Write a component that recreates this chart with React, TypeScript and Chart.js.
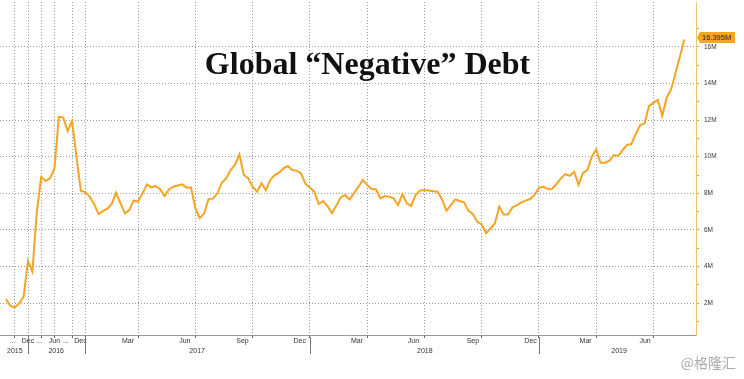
import React, { useEffect, useRef } from "react";
import { Chart, registerables } from "chart.js";
Chart.register(...registerables);

// Global negative-yielding debt (USD trillions, shown as "M" on the source chart)
const values = [
  2.23, 1.85, 1.76, 2.0, 2.36, 4.31, 3.73, 7.0, 8.9, 8.67,
  8.82, 9.36, 12.18, 12.13, 11.4, 11.95, 10.0, 8.13, 8.07, 7.82,
  7.42, 6.87, 7.03, 7.16, 7.42, 8.03, 7.45, 6.91, 7.09, 7.6,
  7.55, 8.0, 8.49, 8.33, 8.4, 8.22, 7.85, 8.22, 8.36, 8.43,
  8.49, 8.31, 8.33, 7.18, 6.64, 6.91, 7.69, 7.71, 8.0, 8.58,
  8.82, 9.27, 9.55, 10.13, 9.0, 8.82, 8.36, 8.09, 8.55, 8.18,
  8.73, 9.0, 9.13, 9.36, 9.49, 9.27, 9.24, 9.09, 8.51, 8.31,
  8.09, 7.42, 7.58, 7.31, 6.91, 7.33, 7.78, 7.91, 7.67, 8.0,
  8.35, 8.73, 8.45, 8.24, 8.22, 7.73, 7.85, 7.82, 7.73, 7.36,
  7.96, 7.45, 7.31, 7.91, 8.15, 8.18, 8.15, 8.12, 8.09, 7.67,
  7.05, 7.36, 7.67, 7.58, 7.51, 7.04, 6.87, 6.45, 6.31, 5.82,
  6.09, 6.36, 7.27, 6.85, 6.85, 7.24, 7.36, 7.51, 7.6, 7.69,
  7.91, 8.31, 8.36, 8.24, 8.25, 8.51, 8.82, 9.05, 8.96, 9.18,
  8.47, 9.11, 9.27, 10.0, 10.4, 9.67, 9.67, 9.78, 10.09, 10.04,
  10.36, 10.64, 10.69, 11.24, 11.73, 11.82, 12.76, 12.95, 13.09, 12.22,
  13.22, 13.67, 14.55, 15.45, 16.395,
];

// x positions are in observation-index units
const gridIdx = [2, 5, 8, 11, 15, 18, 30, 43, 56, 69, 82, 95, 108, 121, 134, 147];
const monthLabels = ["...", "Dec", "...", "Jun", "...", "Dec", "Mar", "Jun", "Sep", "Dec", "Mar", "Jun", "Sep", "Dec", "Mar", "Jun"];
const monthPos = [1.5, 5, 7.5, 11, 13.6, 16.9, 27.7, 40.6, 53.7, 66.7, 79.7, 92.5, 106, 119.1, 131.6, 145.1];
const yearLabels = ["2015", "2016", "2017", "2018", "2019"];
const yearPos = [2, 11.4, 43.4, 95.1, 139.2];
const yearBounds = [5, 18, 69, 121];
const yTicks = [1, 2, 3, 4, 5, 6, 7, 8, 9, 10, 11, 12, 13, 14, 15, 16, 17];

const X_MIN = -1.36;
const X_MAX = 156.66;
const ORANGE = "#f5a424";
const GRID = "#9a9a9a";

const noPad = (s: any) => {
  s.paddingTop = 0;
  s.paddingBottom = 0;
  s.paddingLeft = 0;
  s.paddingRight = 0;
};

const overlay = {
  id: "overlay",
  afterDraw(chart: any) {
    const ctx = chart.ctx;
    const xs = chart.scales.x;
    const ys = chart.scales.y;
    const area = chart.chartArea;
    ctx.save();
    ctx.strokeStyle = "#777";
    ctx.lineWidth = 1;
    yearBounds.forEach((b) => {
      const px = Math.round(xs.getPixelForValue(b)) + 0.5;
      ctx.beginPath();
      ctx.moveTo(px, area.bottom + 2);
      ctx.lineTo(px, area.bottom + 19);
      ctx.stroke();
    });
    const last = values[values.length - 1];
    const py = ys.getPixelForValue(last) - 2;
    const bx = area.right + 4;
    ctx.fillStyle = ORANGE;
    ctx.beginPath();
    ctx.moveTo(area.right + 1, py);
    ctx.lineTo(bx, py - 5.5);
    ctx.lineTo(bx + 35, py - 5.5);
    ctx.lineTo(bx + 35, py + 5.5);
    ctx.lineTo(bx, py + 5.5);
    ctx.closePath();
    ctx.fill();
    ctx.fillStyle = "#222";
    ctx.font = "7.5px 'Liberation Sans'";
    ctx.textBaseline = "middle";
    ctx.textAlign = "left";
    ctx.fillText(last.toFixed(3) + "M", bx + 2, py + 0.5);
    ctx.restore();
  },
};

export default function App() {
  const ref = useRef<HTMLCanvasElement>(null);
  useEffect(() => {
    if (!ref.current) return;
    const tickFont = { family: "'Liberation Sans', sans-serif", size: 7 };
    const chart = new Chart(ref.current, {
      type: "line",
      data: {
        datasets: [
          {
            data: values.map((v, i) => ({ x: i, y: v })),
            borderColor: ORANGE,
            borderWidth: 2,
            pointRadius: 0,
            tension: 0,
            xAxisID: "x",
            yAxisID: "y",
          },
        ],
      },
      options: {
        responsive: false,
        animation: false,
        devicePixelRatio: 1,
        layout: { padding: { left: 0, top: 2, right: 0, bottom: 22 } },
        plugins: { legend: { display: false }, tooltip: { enabled: false }, title: { display: false } },
        scales: {
          x: {
            type: "linear",
            position: "bottom",
            weight: 0,
            min: X_MIN,
            max: X_MAX,
            afterBuildTicks: (s: any) => {
              s.ticks = gridIdx.map((v) => ({ value: v }));
            },
            afterFit: (s: any) => {
              s.height = 0;
              noPad(s);
            },
            ticks: { display: false },
            grid: {
              display: true,
              color: GRID,
              lineWidth: 1,
              drawTicks: true,
              tickLength: 3,
              tickColor: "#666",
              tickBorderDash: [],
            },
            border: { display: true, color: "#999", width: 1, dash: [1, 2] },
          },
          xm: {
            type: "linear",
            position: "bottom",
            weight: 1,
            min: X_MIN,
            max: X_MAX,
            afterBuildTicks: (s: any) => {
              s.ticks = monthPos.map((v) => ({ value: v }));
            },
            afterFit: (s: any) => {
              s.height = 11;
              noPad(s);
            },
            ticks: {
              autoSkip: false,
              maxRotation: 0,
              padding: 2,
              font: tickFont,
              color: "#333",
              callback: (_v: any, i: number) => monthLabels[i],
            },
            grid: { display: false, drawTicks: false },
            border: { display: false },
          },
          xy: {
            type: "linear",
            position: "bottom",
            weight: 2,
            min: X_MIN,
            max: X_MAX,
            afterBuildTicks: (s: any) => {
              s.ticks = yearPos.map((v) => ({ value: v }));
            },
            afterFit: (s: any) => {
              s.height = 11;
              noPad(s);
            },
            ticks: {
              autoSkip: false,
              maxRotation: 0,
              padding: 1,
              font: tickFont,
              color: "#333",
              callback: (_v: any, i: number) => yearLabels[i],
            },
            grid: { display: false, drawTicks: false },
            border: { display: false },
          },
          y: {
            type: "linear",
            position: "right",
            min: 0.27,
            max: 18.44,
            afterBuildTicks: (s: any) => {
              s.ticks = yTicks.map((v) => ({ value: v }));
            },
            afterFit: (s: any) => {
              s.width = 48;
              noPad(s);
            },
            ticks: {
              autoSkip: false,
              padding: 5,
              font: { family: "'Liberation Sans', sans-serif", size: 6.5 },
              color: "#333",
              callback: (v: any) => (Number(v) % 2 === 0 ? v + "M" : ""),
            },
            grid: {
              display: true,
              color: (c: any) => (c.tick && c.tick.value % 2 === 0 ? GRID : "rgba(0,0,0,0)"),
              lineWidth: 1,
              drawTicks: true,
              tickLength: 3,
              tickColor: ORANGE,
              tickBorderDash: [],
            },
            border: { display: true, color: "#f6c46e", width: 1, dash: [1, 2] },
          },
        },
      },
      plugins: [overlay],
    } as any);
    return () => chart.destroy();
  }, []);

  return (
    <div style={{ position: "fixed", left: 0, top: 0, width: 744, height: 379, background: "#fff" }}>
      <canvas ref={ref} width={744} height={379} style={{ display: "block" }} />
      <div
        style={{
          position: "absolute",
          left: 0,
          top: 45,
          width: 735,
          textAlign: "center",
          fontFamily: "'Liberation Serif', serif",
          fontWeight: "bold",
          fontSize: 32,
          color: "#111",
          whiteSpace: "nowrap",
        }}
      >
        Global “Negative” Debt
      </div>
      <div
        style={{
          position: "absolute",
          right: 8,
          top: 352,
          fontFamily: "'Noto Sans CJK SC', sans-serif",
          fontSize: 14,
          color: "#aaa",
        }}
      >
        @格隆汇
      </div>
    </div>
  );
}
